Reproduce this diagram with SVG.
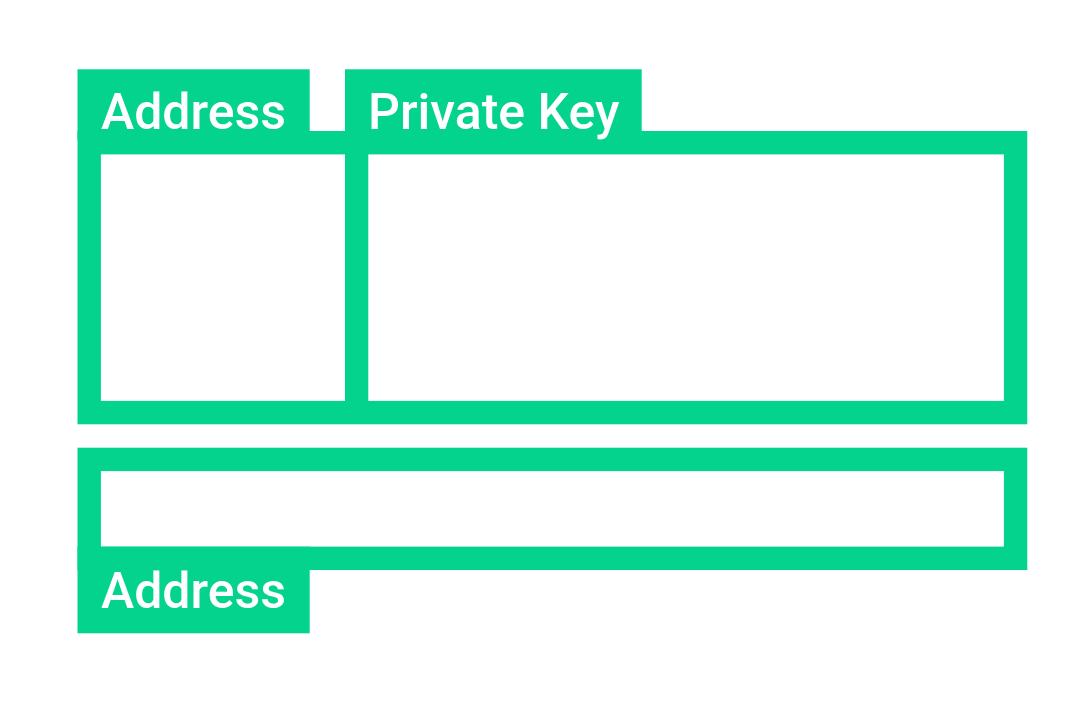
<svg xmlns="http://www.w3.org/2000/svg" width="1087" height="709" viewBox="0 0 1087 709">
<style>
.box{fill:none;stroke:#03D38D;stroke-width:23.4}
.fill{fill:#03D38D}
.lbl{fill:#FFFFFF;font-family:Roboto,"Liberation Sans",sans-serif;font-size:50px;font-weight:500}
</style>
<rect width="1087" height="709" fill="#FFFFFF"/>
<g id="top-block">
<rect class="box" x="89.2" y="142.7" width="926.4" height="269.9"/>
<rect class="fill" x="345" y="131" width="23.3" height="285"/>
</g>
<g id="address-tab-top">
<rect class="fill" x="77.5" y="69.3" width="232.2" height="70"/>
<text class="lbl" x="101" y="129">Address</text>
</g>
<g id="private-key-tab">
<rect class="fill" x="345" y="69.3" width="296.7" height="70"/>
<text class="lbl" x="368" y="129">Private Key</text>
</g>
<g id="bottom-block">
<rect class="box" x="89.2" y="459.4" width="926.4" height="98.9"/>
</g>
<g id="address-tab-bottom">
<rect class="fill" x="77.5" y="546.7" width="232.2" height="86.6"/>
<text class="lbl" x="101" y="608.3">Address</text>
</g>
<g id="connectors"></g>
</svg>
